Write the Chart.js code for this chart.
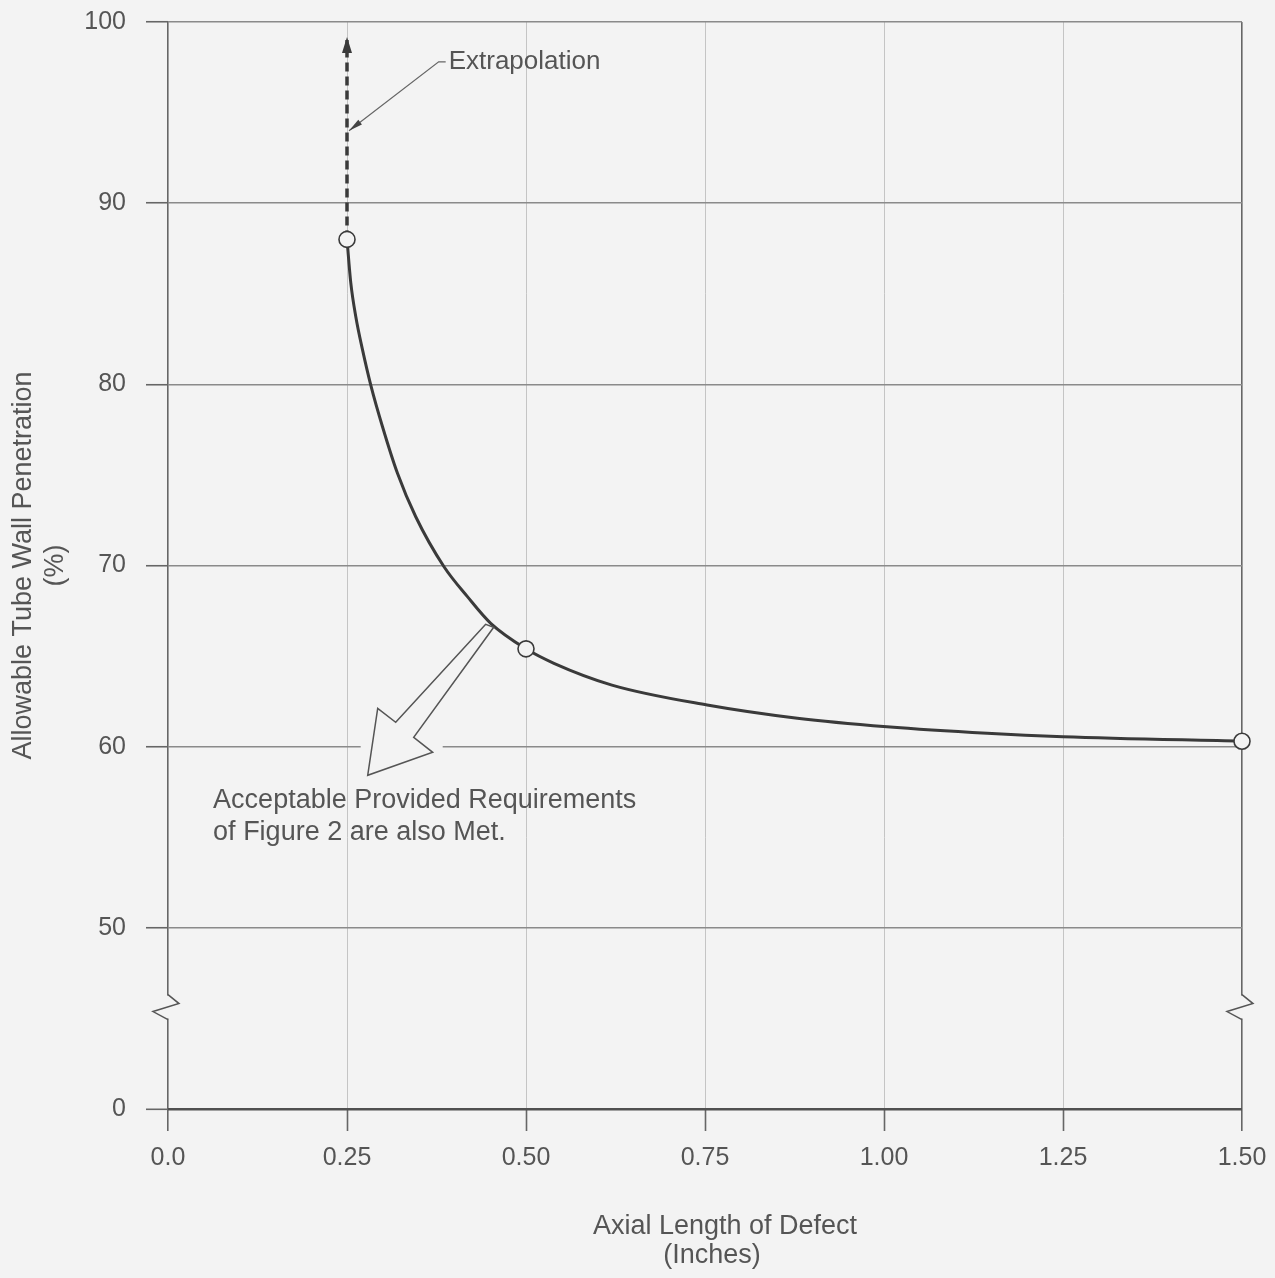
<!DOCTYPE html>
<html>
<head>
<meta charset="utf-8">
<script src="https://cdn.jsdelivr.net/npm/chart.js@4.4.0/dist/chart.umd.min.js"></script>
<style>
html,body{margin:0;padding:0;background:#f3f3f3;}
canvas{display:block;}
</style>
</head>
<body>
<canvas id="chart" width="1275" height="1278"></canvas>
<script>
// curve
const curveX = [0.25, 0.2553, 0.2623, 0.2717, 0.2832, 0.2996, 0.3205, 0.346, 0.3855, 0.4182, 0.4507, 0.50, 0.539, 0.62, 0.753, 0.879, 1.004, 1.144, 1.25, 1.50];
const curveY = [88, 85.6, 83.73, 81.9, 79.96, 77.66, 75.09, 72.69, 69.93, 68.28, 66.81, 65.4, 64.6, 63.4, 62.3, 61.57, 61.1, 60.74, 60.55, 60.3];

// circled points
const markX = [0.25, 0.50, 1.50];
const markY = [88, 65.4, 60.3];

// dashed extrapolation
const extrapX = [0.25, 0.25];
const extrapY = [88, 99];

// ticks (axis is broken between 0 and 50, so "0" sits one step under 50)
const xTickValues = [0, 0.25, 0.5, 0.75, 1.0, 1.25, 1.5];
const xTickLabels = ['0.0', '0.25', '0.50', '0.75', '1.00', '1.25', '1.50'];
const yTickValues = [40, 50, 60, 70, 80, 90, 100];
const yTickLabels = ['0', '50', '60', '70', '80', '90', '100'];
const breakAt = 45.6;

const xTitle = ['Axial Length of Defect', '(Inches)'];
const yTitle = ['Allowable Tube Wall Penetration', '(%)'];

const ink = '#3a3a3a';
const textGray = '#555';
const paper = '#f3f3f3';
const font = 'Liberation Sans';

const toPts = (xs, ys) => xs.map((x, i) => ({x: x, y: ys[i]}));

// background, axis breaks, arrows and notes
const notes = {
    id: 'notes',
    beforeDraw(chart) {
        const c = chart.ctx;
        c.save();
        c.fillStyle = paper;
        c.fillRect(0, 0, chart.width, chart.height);
        c.restore();
    },
    afterDatasetsDraw(chart) {
        const ctx = chart.ctx;
        const xs = chart.scales.x, ys = chart.scales.y;
        const area = chart.chartArea;
        ctx.save();

        // zigzag breaks on both side axes
        const by = ys.getPixelForValue(breakAt);
        [xs.getPixelForValue(0), xs.getPixelForValue(1.5)].forEach(bx => {
            ctx.fillStyle = paper;
            ctx.fillRect(bx - 3, by - 12, 6, 23);
            ctx.strokeStyle = '#555';
            ctx.lineWidth = 1.5;
            ctx.beginPath();
            ctx.moveTo(bx, by - 13);
            ctx.lineTo(bx + 11, by - 4);
            ctx.lineTo(bx - 15, by + 4);
            ctx.lineTo(bx, by + 12);
            ctx.stroke();
        });

        // arrowhead on top of extrapolation
        const ex = xs.getPixelForValue(extrapX[1]);
        const ey = ys.getPixelForValue(extrapY[1]);
        ctx.fillStyle = ink;
        ctx.beginPath();
        ctx.moveTo(ex, ey - 3);
        ctx.lineTo(ex - 5, ey + 13);
        ctx.lineTo(ex + 5, ey + 13);
        ctx.closePath();
        ctx.fill();

        // "Extrapolation" label with leader
        const tx = xs.getPixelForValue(0.392);
        const ty = ys.getPixelForValue(97.8);
        ctx.font = '26px "' + font + '"';
        ctx.fillStyle = textGray;
        ctx.textAlign = 'left';
        ctx.textBaseline = 'middle';
        ctx.fillText('Extrapolation', tx, ty);
        const ax = xs.getPixelForValue(0.25) + 2;
        const ay = ys.getPixelForValue(94.0);
        ctx.strokeStyle = '#666';
        ctx.lineWidth = 1.2;
        ctx.beginPath();
        ctx.moveTo(tx - 3, ty);
        ctx.lineTo(tx - 10, ty);
        ctx.lineTo(ax, ay);
        ctx.stroke();
        const dx = ax - (tx - 10), dy = ay - ty, len = Math.hypot(dx, dy);
        const ux = dx / len, uy = dy / len;
        ctx.fillStyle = '#444';
        ctx.beginPath();
        ctx.moveTo(ax, ay);
        ctx.lineTo(ax - 14 * ux - 3 * uy, ay - 14 * uy + 3 * ux);
        ctx.lineTo(ax - 14 * ux + 3 * uy, ay - 14 * uy - 3 * ux);
        ctx.closePath();
        ctx.fill();

        // hollow arrow from the curve
        const hx = xs.getPixelForValue(0.4507);
        const hy = ys.getPixelForValue(66.81);
        const y60 = ys.getPixelForValue(60);
        ctx.fillStyle = paper;
        ctx.fillRect(hx - 130, y60 - 3, 82, 6);
        const shape = [[-5, 1], [-95, 99], [-113, 85], [-123, 152], [-58, 129], [-77, 114], [3, 4]];
        ctx.beginPath();
        shape.forEach((p, i) => i ? ctx.lineTo(hx + p[0], hy + p[1]) : ctx.moveTo(hx + p[0], hy + p[1]));
        ctx.closePath();
        ctx.fill();
        ctx.strokeStyle = '#555';
        ctx.lineWidth = 1.5;
        ctx.stroke();

        // note under the arrow
        const nx = xs.getPixelForValue(0.063);
        ctx.font = '27px "' + font + '"';
        ctx.fillStyle = textGray;
        ctx.fillText('Acceptable Provided Requirements', nx, ys.getPixelForValue(57.0));
        ctx.fillText('of Figure 2 are also Met.', nx, ys.getPixelForValue(57.0) + 32);

        // x axis title (lines sit slightly off centre in the original)
        const cx = (area.left + area.right) / 2;
        ctx.font = '27px "' + font + '"';
        ctx.textAlign = 'center';
        ctx.fillText(xTitle[0], cx + 20, area.bottom + 118);
        ctx.fillText(xTitle[1], cx + 7, area.bottom + 147);

        ctx.restore();
    }
};

const gridDark = '#666';

new Chart(document.getElementById('chart'), {
    type: 'scatter',
    plugins: [notes],
    data: {
        datasets: [
            {
                data: toPts(markX, markY),
                pointRadius: 8,
                pointHoverRadius: 8,
                pointBackgroundColor: paper,
                pointBorderColor: ink,
                pointBorderWidth: 1.6,
                showLine: false,
                clip: false
            },
            {
                data: toPts(curveX, curveY),
                showLine: true,
                cubicInterpolationMode: 'monotone',
                borderColor: ink,
                borderWidth: 3,
                pointRadius: 0
            },
            {
                data: toPts(extrapX, extrapY),
                showLine: true,
                borderColor: ink,
                borderWidth: 3.5,
                borderDash: [9, 5],
                pointRadius: 0
            }
        ]
    },
    options: {
        responsive: false,
        animation: false,
        events: [],
        layout: {padding: 0, autoPadding: false},
        plugins: {
            legend: {display: false},
            tooltip: {enabled: false}
        },
        scales: {
            x: {
                type: 'linear',
                min: 0,
                max: 1.5,
                afterBuildTicks: s => { s.ticks = xTickValues.map(v => ({value: v})); },
                afterFit: s => { s.height = 169; s.paddingLeft = 0; s.paddingRight = 33; },
                border: {display: false},
                grid: {
                    color: c => (c.index === 0 || c.index === xTickValues.length - 1) ? gridDark : '#c4c4c4',
                    lineWidth: c => (c.index === 0 || c.index === xTickValues.length - 1) ? 1.6 : 1,
                    tickColor: gridDark,
                    tickWidth: 1.6,
                    tickLength: 22
                },
                ticks: {
                    color: textGray,
                    font: {family: font, size: 25},
                    padding: 12,
                    maxRotation: 0,
                    callback: (v, i) => xTickLabels[i]
                }
            },
            y: {
                type: 'linear',
                min: 40,
                max: 100,
                afterBuildTicks: s => { s.ticks = yTickValues.map(v => ({value: v})); },
                afterFit: s => { s.width = 168; s.paddingTop = 22; s.paddingBottom = 0; },
                border: {display: false},
                grid: {
                    color: c => c.index === 0 ? '#505050' : '#8a8a8a',
                    lineWidth: c => c.index === 0 ? 2.6 : 1.5,
                    tickColor: gridDark,
                    tickWidth: 1.6,
                    tickLength: 22
                },
                ticks: {
                    color: textGray,
                    font: {family: font, size: 25},
                    padding: 20,
                    callback: (v, i) => yTickLabels[i]
                },
                title: {
                    display: true,
                    text: yTitle,
                    color: textGray,
                    font: {family: font, size: 27, lineHeight: 1.19},
                    padding: {top: 7, bottom: 0}
                }
            }
        }
    }
});
</script>
</body>
</html>
